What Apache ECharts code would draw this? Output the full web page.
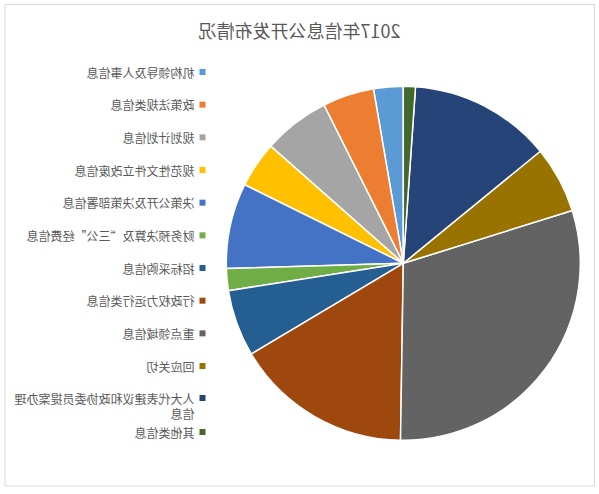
<!DOCTYPE html>
<html>
<head>
<meta charset="utf-8">
<script src="https://cdn.jsdelivr.net/npm/echarts@6/dist/echarts.min.js"></script>
<style>
  html, body { margin: 0; padding: 0; background: #fff; }
  #chart { width: 599px; height: 494px; transform: scaleX(-1); transform-origin: center; }
</style>
</head>
<body>
<div id="chart"></div>
<script>
const titleText = '2017年信息公开发布情况';
const categories = [
  '机构领导及人事信息',
  '政策法规类信息',
  '规划计划信息',
  '规范性文件立改废信息',
  '决策公开及决策部署信息',
  '财务预决算及“三公”经费信息',
  '招标采购信息',
  '行政权力运行类信息',
  '重点领域信息',
  '回应关切',
  '人大代表建议和政协委员提案办理信息',
  '其他类信息'
];
const values = [27, 47, 61, 42, 78, 20, 61, 162, 301, 61, 130, 11];
const colors = ['#5B9BD5', '#ED7D31', '#A5A5A5', '#FFC000', '#4472C4', '#70AD47',
                '#255E91', '#9E480E', '#636363', '#997300', '#264478', '#43682B'];

const font = '"Noto Sans CJK SC", "Noto Sans", sans-serif';
const legendText = { color: '#595959', fontSize: 12, fontFamily: font, lineHeight: 15 };
const legendBase = {
  orient: 'vertical', left: 393.5, padding: 0, icon: 'rect',
  itemWidth: 6, itemHeight: 6, selectedMode: false,
  itemStyle: { borderWidth: 0 }
};

const chart = echarts.init(document.getElementById('chart'), null, { renderer: 'svg' });
chart.setOption({
  backgroundColor: '#fff',
  animation: false,
  color: colors,
  title: {
    text: titleText, left: 'center', top: 21, padding: 0,
    textStyle: { color: '#595959', fontSize: 18, fontWeight: 'normal', fontFamily: font }
  },
  graphic: [{
    type: 'rect', silent: true,
    shape: { x: 4.5, y: 4.5, width: 589.5, height: 481.5 },
    style: { fill: 'none', stroke: '#d9d9d9', lineWidth: 1 }
  }],
  legend: [
    Object.assign({}, legendBase, {
      top: 64.5, itemGap: 17.67, data: categories.slice(0, 10), textStyle: legendText
    }),
    Object.assign({}, legendBase, {
      top: 390.5, itemHeight: 30,
      icon: 'path://M0,0L0,0M0,4.5L6,4.5L6,10.5L0,10.5ZM0,30L0,30',
      data: categories.slice(10, 11),
      textStyle: Object.assign({}, legendText, { width: 181, overflow: 'break' })
    }),
    Object.assign({}, legendBase, {
      top: 424.5, data: categories.slice(11), textStyle: legendText
    })
  ],
  series: [{
    type: 'pie',
    center: [195.7, 263.3],
    radius: 177,
    startAngle: 90,
    clockwise: true,
    label: { show: false },
    labelLine: { show: false },
    emphasis: { disabled: true },
    itemStyle: { borderColor: '#fff', borderWidth: 1.5 },
    data: categories.map((c, i) => ({ name: c, value: values[i] }))
  }]
});
</script>
</body>
</html>
